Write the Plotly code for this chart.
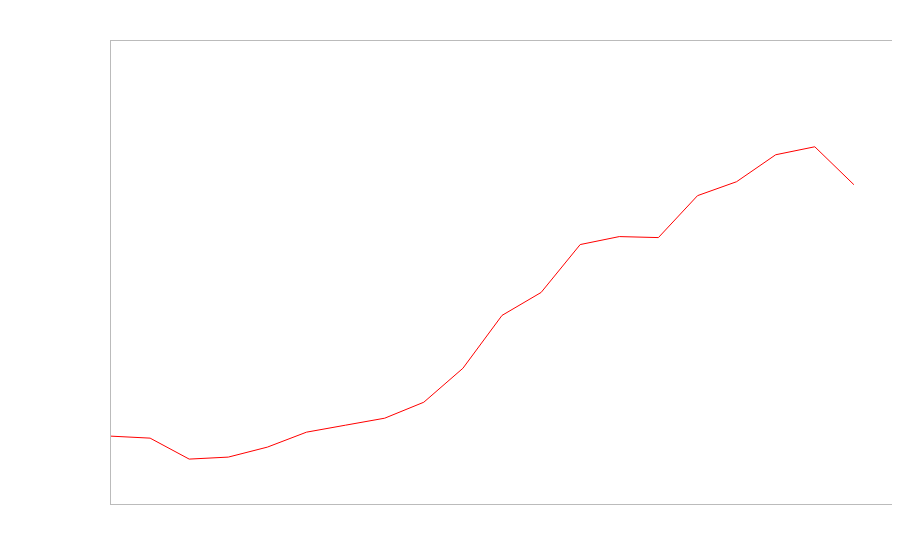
import plotly.graph_objects as go

x_index = list(range(20))
values = [68, 66, 45, 47, 57, 72, 79, 86, 102, 136, 189, 212, 260, 268, 267, 309, 323, 350, 358, 320]

fig = go.Figure()
fig.add_trace(go.Scatter(x=x_index, y=values, mode="lines",
                         line=dict(color="red", width=1), hoverinfo="skip"))

axis_style = dict(showgrid=False, zeroline=False, showticklabels=False, ticks="",
                  showline=True, linecolor="#bbbbbb", linewidth=1, mirror=True)
fig.update_xaxes(range=[0, 20], **axis_style)
fig.update_yaxes(range=[0, 464], **axis_style)
fig.update_layout(width=885, height=545, margin=dict(l=103, r=0, t=33, b=49),
                  plot_bgcolor="white", paper_bgcolor="white", showlegend=False)
fig.write_html("out.html")
